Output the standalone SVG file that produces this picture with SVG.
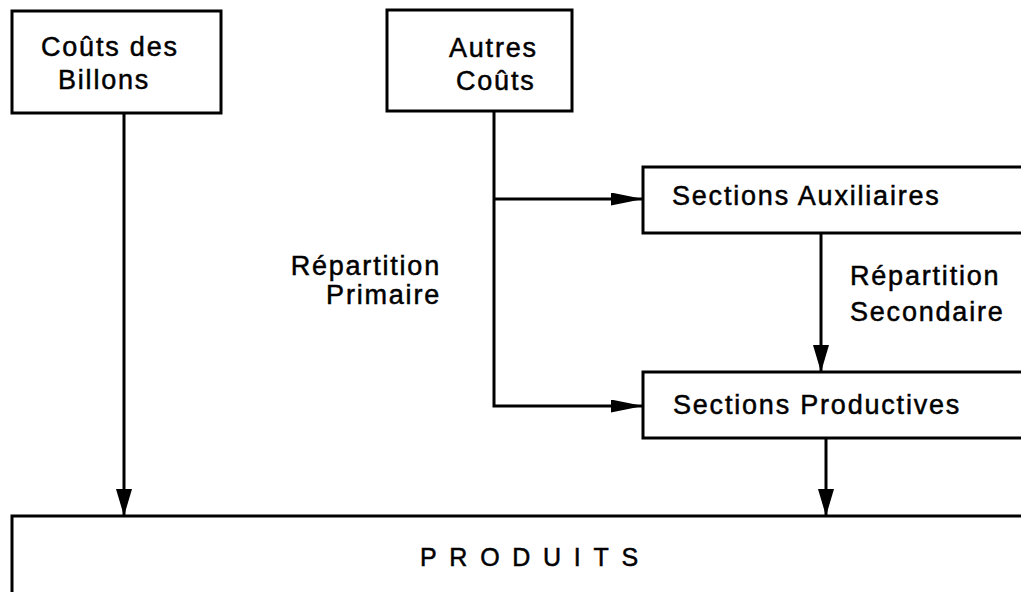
<svg xmlns="http://www.w3.org/2000/svg" width="1021" height="592" viewBox="0 0 1021 592">
  <style>
    .box { fill: #ffffff; stroke: #000000; stroke-width: 3; }
    .lbl { font-family: "Liberation Sans", Arial, Helvetica, sans-serif; font-size: 27px; letter-spacing: 1.8px; fill: #000000; stroke: #000000; stroke-width: 0.5px; }
    .big { font-family: "Liberation Sans", Arial, Helvetica, sans-serif; font-size: 25px; letter-spacing: 12.7px; fill: #000000; stroke: #000000; stroke-width: 0.5px; }
    .conn { fill: none; stroke: #000000; stroke-width: 3; }
  </style>
  <defs>
    <marker id="arrowV" markerUnits="userSpaceOnUse" markerWidth="30" markerHeight="20" refX="27" refY="8" orient="auto">
      <path d="M0,0 L27,8 L0,16 Z" fill="#000000"/>
    </marker>
    <marker id="arrowH" markerUnits="userSpaceOnUse" markerWidth="34" markerHeight="14" refX="32" refY="6.5" orient="auto">
      <path d="M0,0 L32,6.5 L0,13 Z" fill="#000000"/>
    </marker>
  </defs>
  <rect width="1021" height="592" fill="#ffffff"/>

  <g id="connectors">
    <path class="conn" d="M124,113 L124,516" marker-end="url(#arrowV)"/>
    <path class="conn" d="M494,112 L494,406 L643,406" marker-end="url(#arrowH)"/>
    <path class="conn" d="M494,199 L643,199" marker-end="url(#arrowH)"/>
    <path class="conn" d="M821,233 L821,372" marker-end="url(#arrowV)"/>
    <path class="conn" d="M826,438 L826,516" marker-end="url(#arrowV)"/>
  </g>

  <g id="couts-billons">
    <rect class="box" x="12" y="11" width="209" height="102"/>
    <text class="lbl" x="41" y="56">Coûts des</text>
    <text class="lbl" x="58" y="89">Billons</text>
  </g>

  <g id="autres-couts">
    <rect class="box" x="387" y="10" width="185" height="101"/>
    <text class="lbl" x="449" y="57">Autres</text>
    <text class="lbl" x="456" y="90">Coûts</text>
  </g>

  <g id="sections-auxiliaires">
    <rect class="box" x="643" y="167" width="400" height="66"/>
    <text class="lbl" x="672" y="205">Sections Auxiliaires</text>
  </g>

  <g id="sections-productives">
    <rect class="box" x="643" y="372" width="400" height="66"/>
    <text class="lbl" x="673" y="414">Sections Productives</text>
  </g>

  <g id="produits">
    <rect class="box" x="12" y="516" width="1030" height="100"/>
    <text class="big" x="420" y="566">PRODUITS</text>
  </g>

  <g id="label-primaire">
    <text class="lbl" x="441" y="275" text-anchor="end">Répartition</text>
    <text class="lbl" x="441" y="304" text-anchor="end">Primaire</text>
  </g>

  <g id="label-secondaire">
    <text class="lbl" x="850" y="285">Répartition</text>
    <text class="lbl" x="850" y="321">Secondaire</text>
  </g>
</svg>
